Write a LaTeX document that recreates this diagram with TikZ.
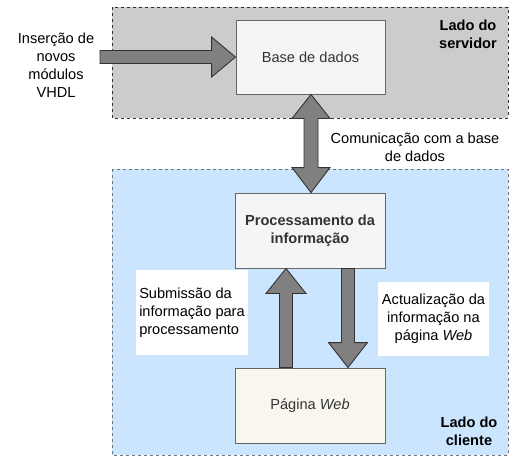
\documentclass[tikz,border=0pt]{standalone}
\usepackage{fontspec}
\setmainfont{Liberation Sans}
\usetikzlibrary{calc}
\definecolor{srvfill}{HTML}{CCCCCC}
\definecolor{clifill}{HTML}{CCE5FF}
\definecolor{boxfill}{HTML}{F5F5F5}
\definecolor{pagefill}{HTML}{F9F7ED}
\definecolor{boxline}{HTML}{666666}
\definecolor{txt}{HTML}{333333}
\definecolor{arrfill}{HTML}{808080}
\definecolor{arrline}{HTML}{333333}
\tikzset{
  region/.style={draw=black!80, dashed, dash pattern=on 3pt off 3pt, line width=0.9pt},
  procbox/.style={draw=boxline, line width=0.9pt, minimum width=150pt, minimum height=75pt, align=center, text=txt, font=\fontsize{14.6}{18}\selectfont},
  lbl/.style={align=center, font=\fontsize{14.6}{18}\selectfont, text=black},
  bglbl/.style={lbl, fill=white, inner sep=2pt},
  blockarrow/.style={fill=arrfill, draw=arrline, line width=0.9pt, line join=miter},
}
\begin{document}
\begin{tikzpicture}[x=1pt, y=-1pt]
\useasboundingbox (0,0) rectangle (509,456);
% regions
\fill[srvfill] (112,7) rectangle (508,118);
\draw[region] (112,7) rectangle (508,118);
\fill[clifill] (112,169) rectangle (508,455);
\draw[region, draw=black!55] (112,169) rectangle (508,455);
% boxes
\node[procbox, fill=boxfill, minimum width=149pt, minimum height=74pt] (db) at (310.5,57) {Base de dados};
\node[procbox, fill=boxfill, font=\fontsize{14.6}{18}\selectfont\bfseries] (proc) at (310,230.5) {Processamento da\\informação};
\node[procbox, fill=pagefill] (page) at (310,405.5) {Página \textit{Web}};
% region labels
\node[lbl, font=\fontsize{14.6}{18}\selectfont\bfseries] (srvlbl) at (468,34) {Lado do\\servidor};
\node[lbl, font=\fontsize{14.6}{18}\selectfont\bfseries] (clilbl) at (469,431) {Lado do\\cliente};
% input arrow
\node[lbl] (inlbl) at (56,65) {Inserção de\\novos\\módulos\\VHDL};
\coordinate (intail) at (100,58);
\draw[blockarrow] let \p1=(db.west), \p2=(intail) in
  (\x2,\y1-6.5) -- (\x1-24,\y1-6.5) -- (\x1-24,\y1-20) -- (\p1) -- (\x1-24,\y1+20) -- (\x1-24,\y1+6.5) -- (\x2,\y1+6.5) -- cycle;
% double vertical arrow between db and proc
\coordinate (dtop) at ($(db.south)+(0.5,0)$);
\coordinate (dbot) at ($(proc.north)+(1,0)$);
\draw[blockarrow] (dtop) -- ($(dtop)+(19,24)$) -- ($(dtop)+(7,24)$) -- ($(dbot)+(7,-25)$) -- ($(dbot)+(19,-25)$) -- (dbot)
  -- ($(dbot)+(-19,-25)$) -- ($(dbot)+(-7,-25)$) -- ($(dtop)+(-7,24)$) -- ($(dtop)+(-19,24)$) -- cycle;
\node[bglbl, minimum width=176pt, minimum height=38pt] (comlbl) at (415,147) {Comunicação com a base\\de dados};
% up arrow page -> proc
\coordinate (utop) at ($(proc.south)+(-24,0)$);
\coordinate (ubot) at ($(page.north)+(-24,0)$);
\draw[blockarrow] (utop) -- ($(utop)+(20,25)$) -- ($(utop)+(6.5,25)$) -- ($(ubot)+(6.5,0)$) -- ($(ubot)+(-6.5,0)$) -- ($(utop)+(-6.5,25)$) -- ($(utop)+(-20,25)$) -- cycle;
% down arrow proc -> page
\coordinate (wtop) at ($(proc.south)+(38,0)$);
\coordinate (wbot) at ($(page.north)+(38,0)$);
\draw[blockarrow] ($(wtop)+(-6.5,0)$) -- ($(wtop)+(6.5,0)$) -- ($(wbot)+(6.5,-25)$) -- ($(wbot)+(19.5,-25)$) -- (wbot) -- ($(wbot)+(-19.5,-25)$) -- ($(wbot)+(-6.5,-25)$) -- cycle;
% side labels
\node[bglbl, align=left, minimum width=112pt, minimum height=85pt] (sublbl) at (192,312.5) {Submissão da\\informação para\\processamento};
\node[bglbl, minimum width=111pt, minimum height=74pt] (actlbl) at (433.5,318.5) {Actualização da\\informação na\\página \textit{Web}};
\end{tikzpicture}
\end{document}
